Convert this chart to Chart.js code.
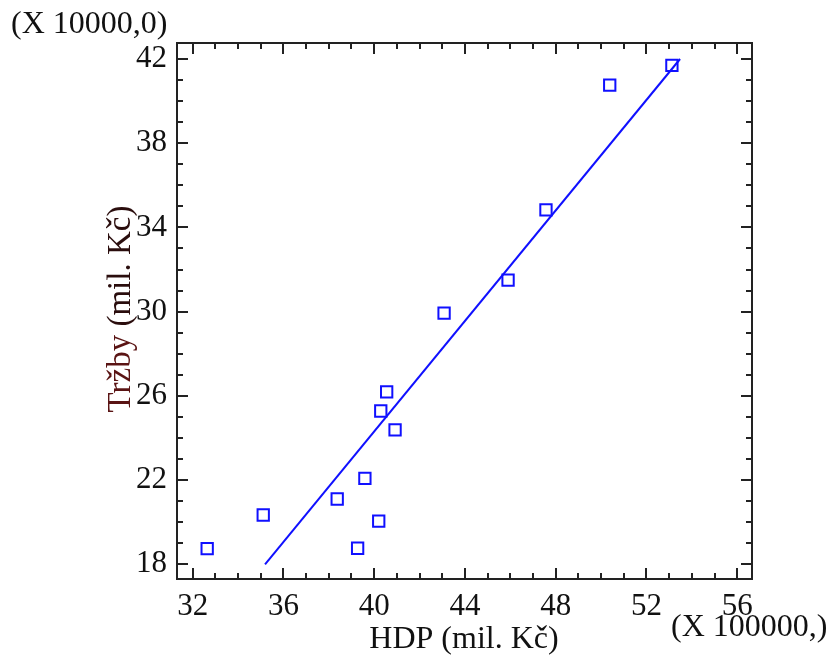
<!DOCTYPE html>
<html>
<head>
<meta charset="utf-8">
<script src="https://cdn.jsdelivr.net/npm/chart.js@4"></script>
<style>
  html, body { margin: 0; padding: 0; background: #ffffff; }
  #wrap { width: 835px; height: 662px; }
</style>
</head>
<body>
<div id="wrap"><canvas id="c" width="835" height="662"></canvas></div>
<script>
// ---- data ----
const hdp   = [32.64, 35.11, 38.37, 39.27, 39.59, 40.20, 40.29, 40.55, 40.92, 43.08, 45.90, 47.57, 50.38, 53.12];
const trzby = [18.74, 20.34, 21.10, 18.76, 22.08, 20.05, 25.28, 26.19, 24.38, 29.93, 31.50, 34.83, 40.76, 41.70];
const fitX  = [35.19, 53.48];
const fitY  = [18.00, 42.00];
const xTicks = [32, 36, 40, 44, 48, 52, 56];
const yTicks = [18, 22, 26, 30, 34, 38, 42];
const xMinor = [32,33,34,35,36,37,38,39,40,41,42,43,44,45,46,47,48,49,50,51,52,53,54,55,56];
const yMinor = [18,19,20,21,22,23,24,25,26,27,28,29,30,31,32,33,34,35,36,37,38,39,40,41,42];
const xTitle = 'HDP (mil. Kč)';
const yTitleA = 'Tržby';
const yTitleB = ' (mil. Kč)';
const yExp = '(X 10000,0)';
const xExp = '(X 100000,)';

const FONT = '"Liberation Serif", "Times New Roman", serif';
const BLUE = '#1010ff';

const frame = {
  id: 'frame',
  afterDraw(chart) {
    const ctx = chart.ctx;
    const a = chart.chartArea;
    const xs = chart.scales.x, ys = chart.scales.y;
    ctx.save();
    ctx.strokeStyle = '#222';
    ctx.lineWidth = 2;
    ctx.strokeRect(a.left, a.top, a.right - a.left, a.bottom - a.top);
    ctx.beginPath();
    xMinor.forEach(v => {
      const p = Math.round(xs.getPixelForValue(v));
      const len = xTicks.includes(v) ? 11 : 6;
      ctx.moveTo(p, a.bottom); ctx.lineTo(p, a.bottom - len);
      ctx.moveTo(p, a.top); ctx.lineTo(p, a.top + len);
    });
    yMinor.forEach(v => {
      const p = Math.round(ys.getPixelForValue(v));
      const len = yTicks.includes(v) ? 11 : 6;
      ctx.moveTo(a.left, p); ctx.lineTo(a.left + len, p);
      ctx.moveTo(a.right, p); ctx.lineTo(a.right - len, p);
    });
    ctx.stroke();

    ctx.fillStyle = '#111';
    ctx.textBaseline = 'middle';
    ctx.font = '32px ' + FONT;
    ctx.textAlign = 'center';
    ctx.fillText(xTitle, 464, 640);
    ctx.textAlign = 'left';
    ctx.font = '32px ' + FONT;
    ctx.fillText(yExp, 11, 25);
    ctx.fillText(xExp, 671, 628);

    // rotated y title
    ctx.save();
    ctx.translate(121, 309);
    ctx.rotate(-Math.PI / 2);
    ctx.font = '33px ' + FONT;
    const wA = ctx.measureText(yTitleA).width;
    const wB = ctx.measureText(yTitleB).width;
    const start = -(wA + wB) / 2;
    ctx.textAlign = 'left';
    ctx.fillStyle = '#5a1414';
    ctx.fillText(yTitleA, start, 0);
    ctx.fillStyle = '#2a0d0d';
    ctx.fillText(yTitleB, start + wA, 0);
    ctx.restore();
    ctx.restore();
  }
};

new Chart(document.getElementById('c'), {
  type: 'scatter',
  data: {
    datasets: [
      {
        label: 'data',
        data: hdp.map((x, i) => ({ x: x, y: trzby[i] })),
        pointStyle: 'rect',
        pointRadius: 8,
        pointHoverRadius: 8,
        borderColor: BLUE,
        backgroundColor: 'rgba(0,0,0,0)',
        pointBorderWidth: 2,
        showLine: false
      },
      {
        label: 'fit',
        data: fitX.map((x, i) => ({ x: x, y: fitY[i] })),
        showLine: true,
        borderColor: BLUE,
        borderWidth: 2,
        pointRadius: 0,
        fill: false
      }
    ]
  },
  options: {
    responsive: false,
    animation: false,
    events: [],
    layout: { padding: { top: 43, right: 83, left: 0, bottom: 0 } },
    plugins: { legend: { display: false }, tooltip: { enabled: false }, title: { display: false } },
    scales: {
      x: {
        type: 'linear',
        min: 31.31, max: 56.65,
        afterFit(s) { s.height = 83; },
        afterBuildTicks(s) { s.ticks = xTicks.map(v => ({ value: v })); },
        grid: { display: false, drawTicks: false },
        border: { display: false },
        ticks: { color: '#111', font: { family: FONT, size: 31 }, padding: 9, maxRotation: 0, autoSkip: false,
                 callback: v => String(v) }
      },
      y: {
        type: 'linear',
        min: 17.30, max: 42.76,
        afterFit(s) { s.width = 177; },
        afterBuildTicks(s) { s.ticks = yTicks.map(v => ({ value: v })); },
        grid: { display: false, drawTicks: false },
        border: { display: false },
        ticks: { color: '#111', font: { family: FONT, size: 31 }, padding: 10, autoSkip: false,
                 callback: v => String(v) }
      }
    }
  },
  plugins: [frame]
});
</script>
</body>
</html>
